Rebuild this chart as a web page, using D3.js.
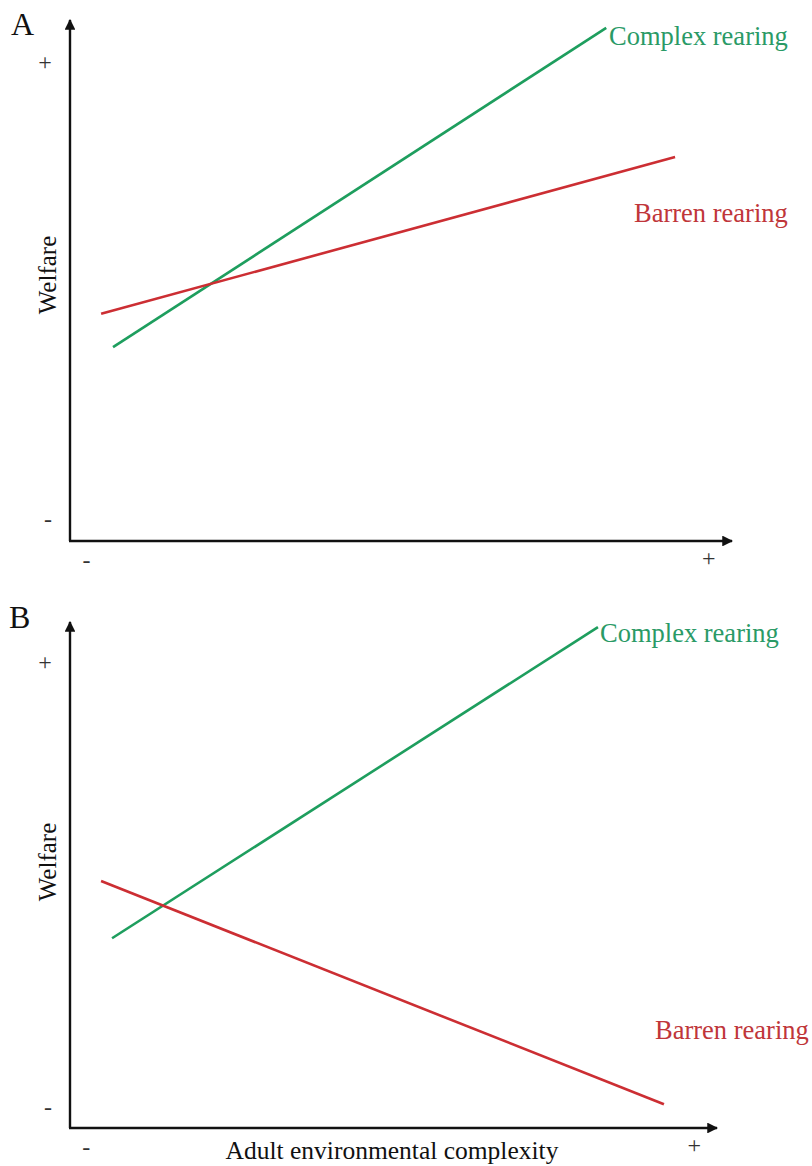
<!DOCTYPE html>
<html>
<head>
<meta charset="utf-8">
<script src="https://cdn.jsdelivr.net/npm/d3@7"></script>
<style>
  body { margin: 0; background: #fff; }
  svg text { font-family: "Liberation Serif", "DejaVu Serif", serif; }
</style>
</head>
<body>
<svg id="chart" width="812" height="1166"></svg>
<script>
// values, both axes on a 0-10 scale
var panels = ["A", "B"];
var seriesNames = ["Complex rearing", "Barren rearing"];
var seriesColors = ["#1e9e5e", "#cc2e33"];
var labelColors = ["#2a9a66", "#c0363a"];
var tickLow = "-", tickHigh = "+";
var yTitle = "Welfare";
var xTitle = "Adult environmental complexity";

// [x, y] end points of each line
var complexA = [[0.65, 3.72], [8.1, 9.85]];
var barrenA = [[0.47, 4.36], [9.14, 7.37]];
var complexB = [[0.65, 3.75], [8.16, 9.9]];
var barrenB = [[0.48, 4.88], [9.18, 0.47]];

var svg = d3.select("#chart");

svg.append("defs").append("marker")
  .attr("id", "arrow")
  .attr("viewBox", "0 0 10 10")
  .attr("refX", 9).attr("refY", 5)
  .attr("markerWidth", 4.5).attr("markerHeight", 4.5)
  .attr("orient", "auto")
  .append("path")
  .attr("d", "M0,0 L10,5 L0,10 z")
  .attr("fill", "#111");

var layout = [
  {x0: 70, x1: 732, yBottom: 541, yTop: 20, data: [complexA, barrenA],
   labels: [[609, 45], [634, 222]], title: [11, 35], welfareY: 275, xTitle: false},
  {x0: 70, x1: 717, yBottom: 1128, yTop: 622, data: [complexB, barrenB],
   labels: [[600, 642], [655, 1039]], title: [9, 628], welfareY: 862, xTitle: true}
];

layout.forEach(function(p, i) {
  var x = d3.scaleLinear().domain([0, 10]).range([p.x0, p.x1]);
  var y = d3.scaleLinear().domain([0, 10]).range([p.yBottom, p.yTop]);
  var g = svg.append("g");

  // axes with arrow heads
  g.append("line")
    .attr("x1", x(0)).attr("y1", y(0)).attr("x2", x(0)).attr("y2", y(10))
    .attr("stroke", "#111").attr("stroke-width", 2.4)
    .attr("marker-end", "url(#arrow)");
  g.append("line")
    .attr("x1", x(0) - 1).attr("y1", y(0)).attr("x2", x(10)).attr("y2", y(0))
    .attr("stroke", "#111").attr("stroke-width", 2.4)
    .attr("marker-end", "url(#arrow)");

  // +/- end markers
  g.append("text").attr("x", x(0) - 25).attr("y", y(9.2) + 8)
    .attr("text-anchor", "middle").attr("font-size", 24).attr("fill", "#333").text(tickHigh);
  g.append("text").attr("x", x(0) - 22).attr("y", y(0.4) + 7)
    .attr("text-anchor", "middle").attr("font-size", 24).attr("fill", "#333").text(tickLow);
  g.append("text").attr("x", x(0.25)).attr("y", y(0) + 27)
    .attr("text-anchor", "middle").attr("font-size", 24).attr("fill", "#333").text(tickLow);
  g.append("text").attr("x", x(9.65)).attr("y", y(0) + 25)
    .attr("text-anchor", "middle").attr("font-size", 24).attr("fill", "#333").text(tickHigh);

  // panel letter
  g.append("text").attr("x", p.title[0]).attr("y", p.title[1])
    .attr("font-size", 32).attr("fill", "#111").text(panels[i]);

  // y title
  g.append("text")
    .attr("transform", "translate(56," + p.welfareY + ") rotate(-90)")
    .attr("text-anchor", "middle").attr("font-size", 25).attr("fill", "#111")
    .text(yTitle);

  if (p.xTitle) {
    g.append("text").attr("x", 392).attr("y", y(0) + 31)
      .attr("text-anchor", "middle").attr("font-size", 25.5).attr("fill", "#111")
      .text(xTitle);
  }

  var line = d3.line().x(function(d) { return x(d[0]); }).y(function(d) { return y(d[1]); });

  p.data.forEach(function(s, k) {
    g.append("path").datum(s)
      .attr("d", line)
      .attr("fill", "none")
      .attr("stroke", seriesColors[k])
      .attr("stroke-width", 2.6);
    g.append("text")
      .attr("x", p.labels[k][0]).attr("y", p.labels[k][1])
      .attr("font-size", 26.5).attr("fill", labelColors[k])
      .text(seriesNames[k]);
  });
});
</script>
</body>
</html>
